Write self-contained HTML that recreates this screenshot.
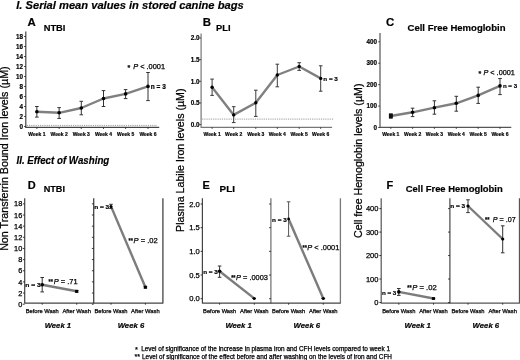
<!DOCTYPE html>
<html><head><meta charset="utf-8"><style>
html,body{margin:0;padding:0;background:#fff;}
svg{display:block;font-family:"Liberation Sans", sans-serif;filter:grayscale(1);}
text[font-weight="normal"]{stroke:#000;stroke-width:0.25px;}
text[font-weight="bold"]{stroke:#000;stroke-width:0.18px;}
</style></head><body>
<svg width="520" height="360" viewBox="0 0 520 360">
<rect width="520" height="360" fill="#fff"/>
<text x="16.2" y="8.5" font-size="10.7" font-weight="bold" font-style="italic" text-anchor="start" fill="#000" textLength="227.5" lengthAdjust="spacingAndGlyphs">I. Serial mean values in stored canine bags</text>
<text x="16.5" y="164.2" font-size="10.1" font-weight="bold" font-style="italic" text-anchor="start" fill="#000" textLength="92.8" lengthAdjust="spacingAndGlyphs">II. Effect of Washing</text>
<text transform="translate(7.5,158.6) rotate(-90)" x="0" y="0" font-size="10.6" font-weight="normal" text-anchor="middle" textLength="184.5" lengthAdjust="spacingAndGlyphs">Non Transferrin Bound Iron levels (µM)</text>
<text transform="translate(183.8,160.2) rotate(-90)" x="0" y="0" font-size="10.6" font-weight="normal" text-anchor="middle" textLength="143.4" lengthAdjust="spacingAndGlyphs">Plasma Labile Iron levels (µM)</text>
<text transform="translate(361.6,160.8) rotate(-90)" x="0" y="0" font-size="10.6" font-weight="normal" text-anchor="middle" textLength="154.5" lengthAdjust="spacingAndGlyphs">Cell free Hemoglobin levels (µM)</text>
<text x="27.5" y="25.7" font-size="11.4" font-weight="bold" font-style="normal" text-anchor="start" fill="#000">A</text>
<text x="43.7" y="30.8" font-size="9.3" font-weight="bold" font-style="normal" text-anchor="start" fill="#000">NTBI</text>
<line x1="25.8" y1="31.5" x2="25.8" y2="128.0" stroke="#444" stroke-width="1.2"/>
<line x1="24.0" y1="126.5" x2="25.8" y2="126.5" stroke="#222" stroke-width="0.8"/>
<text x="23.1" y="128.7" font-size="6.3" font-weight="bold" font-style="normal" text-anchor="end" fill="#000">0</text>
<line x1="24.0" y1="116.5" x2="25.8" y2="116.5" stroke="#222" stroke-width="0.8"/>
<text x="23.1" y="118.7" font-size="6.3" font-weight="bold" font-style="normal" text-anchor="end" fill="#000">2</text>
<line x1="24.0" y1="106.5" x2="25.8" y2="106.5" stroke="#222" stroke-width="0.8"/>
<text x="23.1" y="108.7" font-size="6.3" font-weight="bold" font-style="normal" text-anchor="end" fill="#000">4</text>
<line x1="24.0" y1="96.5" x2="25.8" y2="96.5" stroke="#222" stroke-width="0.8"/>
<text x="23.1" y="98.7" font-size="6.3" font-weight="bold" font-style="normal" text-anchor="end" fill="#000">6</text>
<line x1="24.0" y1="86.5" x2="25.8" y2="86.5" stroke="#222" stroke-width="0.8"/>
<text x="23.1" y="88.7" font-size="6.3" font-weight="bold" font-style="normal" text-anchor="end" fill="#000">8</text>
<line x1="24.0" y1="76.5" x2="25.8" y2="76.5" stroke="#222" stroke-width="0.8"/>
<text x="23.1" y="78.7" font-size="6.3" font-weight="bold" font-style="normal" text-anchor="end" fill="#000">10</text>
<line x1="24.0" y1="66.5" x2="25.8" y2="66.5" stroke="#222" stroke-width="0.8"/>
<text x="23.1" y="68.7" font-size="6.3" font-weight="bold" font-style="normal" text-anchor="end" fill="#000">12</text>
<line x1="24.0" y1="56.5" x2="25.8" y2="56.5" stroke="#222" stroke-width="0.8"/>
<text x="23.1" y="58.7" font-size="6.3" font-weight="bold" font-style="normal" text-anchor="end" fill="#000">14</text>
<line x1="24.0" y1="46.5" x2="25.8" y2="46.5" stroke="#222" stroke-width="0.8"/>
<text x="23.1" y="48.7" font-size="6.3" font-weight="bold" font-style="normal" text-anchor="end" fill="#000">16</text>
<line x1="24.0" y1="36.5" x2="25.8" y2="36.5" stroke="#222" stroke-width="0.8"/>
<text x="23.1" y="38.7" font-size="6.3" font-weight="bold" font-style="normal" text-anchor="end" fill="#000">18</text>
<line x1="25.8" y1="127.4" x2="159.2" y2="127.4" stroke="#444" stroke-width="1.3"/>
<line x1="36.85" y1="127.4" x2="36.85" y2="129.0" stroke="#222" stroke-width="0.8"/>
<text x="36.85" y="136.3" font-size="5" font-weight="bold" font-style="normal" text-anchor="middle" fill="#000" textLength="17.2" lengthAdjust="spacingAndGlyphs">Week 1</text>
<line x1="59.15" y1="127.4" x2="59.15" y2="129.0" stroke="#222" stroke-width="0.8"/>
<text x="59.15" y="136.3" font-size="5" font-weight="bold" font-style="normal" text-anchor="middle" fill="#000" textLength="17.2" lengthAdjust="spacingAndGlyphs">Week 2</text>
<line x1="81.3" y1="127.4" x2="81.3" y2="129.0" stroke="#222" stroke-width="0.8"/>
<text x="81.3" y="136.3" font-size="5" font-weight="bold" font-style="normal" text-anchor="middle" fill="#000" textLength="17.2" lengthAdjust="spacingAndGlyphs">Week 3</text>
<line x1="103.5" y1="127.4" x2="103.5" y2="129.0" stroke="#222" stroke-width="0.8"/>
<text x="103.5" y="136.3" font-size="5" font-weight="bold" font-style="normal" text-anchor="middle" fill="#000" textLength="17.2" lengthAdjust="spacingAndGlyphs">Week 4</text>
<line x1="125.6" y1="127.4" x2="125.6" y2="129.0" stroke="#222" stroke-width="0.8"/>
<text x="125.6" y="136.3" font-size="5" font-weight="bold" font-style="normal" text-anchor="middle" fill="#000" textLength="17.2" lengthAdjust="spacingAndGlyphs">Week 5</text>
<line x1="148.0" y1="127.4" x2="148.0" y2="129.0" stroke="#222" stroke-width="0.8"/>
<text x="148.0" y="136.3" font-size="5" font-weight="bold" font-style="normal" text-anchor="middle" fill="#000" textLength="17.2" lengthAdjust="spacingAndGlyphs">Week 6</text>
<line x1="26.8" y1="125.4" x2="157" y2="125.4" stroke="#555" stroke-width="0.6" stroke-dasharray="1.2,1"/>
<polyline points="36.85,111.8 59.15,112.8 81.3,108 103.5,98.5 125.6,93.9 148.0,86.4" fill="none" stroke="#808080" stroke-width="2.4" stroke-linejoin="round"/>
<line x1="36.85" y1="106.5" x2="36.85" y2="117.1" stroke="#333" stroke-width="1"/>
<line x1="35.050000000000004" y1="106.5" x2="38.65" y2="106.5" stroke="#333" stroke-width="1"/>
<line x1="35.050000000000004" y1="117.1" x2="38.65" y2="117.1" stroke="#333" stroke-width="1"/>
<circle cx="36.85" cy="111.8" r="1.8" fill="#000"/>
<line x1="59.15" y1="107.6" x2="59.15" y2="118.4" stroke="#333" stroke-width="1"/>
<line x1="57.35" y1="107.6" x2="60.949999999999996" y2="107.6" stroke="#333" stroke-width="1"/>
<line x1="57.35" y1="118.4" x2="60.949999999999996" y2="118.4" stroke="#333" stroke-width="1"/>
<circle cx="59.15" cy="112.8" r="1.8" fill="#000"/>
<line x1="81.3" y1="101.3" x2="81.3" y2="114.8" stroke="#333" stroke-width="1"/>
<line x1="79.5" y1="101.3" x2="83.1" y2="101.3" stroke="#333" stroke-width="1"/>
<line x1="79.5" y1="114.8" x2="83.1" y2="114.8" stroke="#333" stroke-width="1"/>
<circle cx="81.3" cy="108" r="1.8" fill="#000"/>
<line x1="103.5" y1="90.6" x2="103.5" y2="106.5" stroke="#333" stroke-width="1"/>
<line x1="101.7" y1="90.6" x2="105.3" y2="90.6" stroke="#333" stroke-width="1"/>
<line x1="101.7" y1="106.5" x2="105.3" y2="106.5" stroke="#333" stroke-width="1"/>
<circle cx="103.5" cy="98.5" r="1.8" fill="#000"/>
<line x1="125.6" y1="89.6" x2="125.6" y2="98.6" stroke="#333" stroke-width="1"/>
<line x1="123.8" y1="89.6" x2="127.39999999999999" y2="89.6" stroke="#333" stroke-width="1"/>
<line x1="123.8" y1="98.6" x2="127.39999999999999" y2="98.6" stroke="#333" stroke-width="1"/>
<circle cx="125.6" cy="93.9" r="1.8" fill="#000"/>
<line x1="148.0" y1="72.5" x2="148.0" y2="100.6" stroke="#333" stroke-width="1"/>
<line x1="146.2" y1="72.5" x2="149.8" y2="72.5" stroke="#333" stroke-width="1"/>
<line x1="146.2" y1="100.6" x2="149.8" y2="100.6" stroke="#333" stroke-width="1"/>
<circle cx="148.0" cy="86.4" r="1.8" fill="#000"/>
<text x="127.6" y="70.2" font-size="7" font-weight="bold" font-style="normal" text-anchor="start" fill="#000">*</text>
<text x="133.2" y="69.2" font-size="7.2" font-weight="normal" font-style="normal" text-anchor="start" fill="#000" textLength="31.9" lengthAdjust="spacingAndGlyphs"><tspan font-style="italic">P</tspan> &lt; .0001</text>
<text x="150.8" y="88.7" font-size="6.6" font-weight="bold" font-style="normal" text-anchor="start" fill="#000" textLength="15" lengthAdjust="spacingAndGlyphs">n = 3</text>
<text x="202.7" y="25.7" font-size="11.4" font-weight="bold" font-style="normal" text-anchor="start" fill="#000">B</text>
<text x="216.0" y="30.8" font-size="9.3" font-weight="bold" font-style="normal" text-anchor="start" fill="#000">PLI</text>
<line x1="201.1" y1="33.4" x2="201.1" y2="127.89999999999999" stroke="#777" stroke-width="1.2"/>
<line x1="199.29999999999998" y1="124.6" x2="201.1" y2="124.6" stroke="#222" stroke-width="0.8"/>
<text x="199.6" y="126.8" font-size="6.3" font-weight="bold" font-style="normal" text-anchor="end" fill="#000">0.0</text>
<line x1="199.29999999999998" y1="102.94999999999999" x2="201.1" y2="102.94999999999999" stroke="#222" stroke-width="0.8"/>
<text x="199.6" y="105.14999999999999" font-size="6.3" font-weight="bold" font-style="normal" text-anchor="end" fill="#000">0.5</text>
<line x1="199.29999999999998" y1="81.3" x2="201.1" y2="81.3" stroke="#222" stroke-width="0.8"/>
<text x="199.6" y="83.5" font-size="6.3" font-weight="bold" font-style="normal" text-anchor="end" fill="#000">1.0</text>
<line x1="199.29999999999998" y1="59.650000000000006" x2="201.1" y2="59.650000000000006" stroke="#222" stroke-width="0.8"/>
<text x="199.6" y="61.85000000000001" font-size="6.3" font-weight="bold" font-style="normal" text-anchor="end" fill="#000">1.5</text>
<line x1="199.29999999999998" y1="38.0" x2="201.1" y2="38.0" stroke="#222" stroke-width="0.8"/>
<text x="199.6" y="40.2" font-size="6.3" font-weight="bold" font-style="normal" text-anchor="end" fill="#000">2.0</text>
<line x1="201.1" y1="127.3" x2="332.1" y2="127.3" stroke="#777" stroke-width="1.3"/>
<line x1="212.1" y1="127.3" x2="212.1" y2="128.9" stroke="#222" stroke-width="0.8"/>
<text x="212.1" y="136.2" font-size="5" font-weight="bold" font-style="normal" text-anchor="middle" fill="#000" textLength="17.2" lengthAdjust="spacingAndGlyphs">Week 1</text>
<line x1="233.7" y1="127.3" x2="233.7" y2="128.9" stroke="#222" stroke-width="0.8"/>
<text x="233.7" y="136.2" font-size="5" font-weight="bold" font-style="normal" text-anchor="middle" fill="#000" textLength="17.2" lengthAdjust="spacingAndGlyphs">Week 2</text>
<line x1="255.8" y1="127.3" x2="255.8" y2="128.9" stroke="#222" stroke-width="0.8"/>
<text x="255.8" y="136.2" font-size="5" font-weight="bold" font-style="normal" text-anchor="middle" fill="#000" textLength="17.2" lengthAdjust="spacingAndGlyphs">Week 3</text>
<line x1="277.3" y1="127.3" x2="277.3" y2="128.9" stroke="#222" stroke-width="0.8"/>
<text x="277.3" y="136.2" font-size="5" font-weight="bold" font-style="normal" text-anchor="middle" fill="#000" textLength="17.2" lengthAdjust="spacingAndGlyphs">Week 4</text>
<line x1="299.2" y1="127.3" x2="299.2" y2="128.9" stroke="#222" stroke-width="0.8"/>
<text x="299.2" y="136.2" font-size="5" font-weight="bold" font-style="normal" text-anchor="middle" fill="#000" textLength="17.2" lengthAdjust="spacingAndGlyphs">Week 5</text>
<line x1="320.7" y1="127.3" x2="320.7" y2="128.9" stroke="#222" stroke-width="0.8"/>
<text x="320.7" y="136.2" font-size="5" font-weight="bold" font-style="normal" text-anchor="middle" fill="#000" textLength="17.2" lengthAdjust="spacingAndGlyphs">Week 6</text>
<line x1="202.1" y1="119.1" x2="333.8" y2="119.1" stroke="#555" stroke-width="0.6" stroke-dasharray="1.2,1"/>
<polyline points="212.1,87.2 233.7,114.9 255.8,102.8 277.3,75 299.2,66.5 320.7,78.4" fill="none" stroke="#808080" stroke-width="2.4" stroke-linejoin="round"/>
<line x1="212.1" y1="79.1" x2="212.1" y2="95.4" stroke="#3a3a3a" stroke-width="1"/>
<line x1="210.29999999999998" y1="79.1" x2="213.9" y2="79.1" stroke="#3a3a3a" stroke-width="1"/>
<line x1="210.29999999999998" y1="95.4" x2="213.9" y2="95.4" stroke="#3a3a3a" stroke-width="1"/>
<circle cx="212.1" cy="87.2" r="1.7" fill="#000"/>
<line x1="233.7" y1="106.7" x2="233.7" y2="122.6" stroke="#3a3a3a" stroke-width="1"/>
<line x1="231.89999999999998" y1="106.7" x2="235.5" y2="106.7" stroke="#3a3a3a" stroke-width="1"/>
<line x1="231.89999999999998" y1="122.6" x2="235.5" y2="122.6" stroke="#3a3a3a" stroke-width="1"/>
<circle cx="233.7" cy="114.9" r="1.7" fill="#000"/>
<line x1="255.8" y1="90.2" x2="255.8" y2="116.4" stroke="#3a3a3a" stroke-width="1"/>
<line x1="254.0" y1="90.2" x2="257.6" y2="90.2" stroke="#3a3a3a" stroke-width="1"/>
<line x1="254.0" y1="116.4" x2="257.6" y2="116.4" stroke="#3a3a3a" stroke-width="1"/>
<circle cx="255.8" cy="102.8" r="1.7" fill="#000"/>
<line x1="277.3" y1="64.2" x2="277.3" y2="86.8" stroke="#3a3a3a" stroke-width="1"/>
<line x1="275.5" y1="64.2" x2="279.1" y2="64.2" stroke="#3a3a3a" stroke-width="1"/>
<line x1="275.5" y1="86.8" x2="279.1" y2="86.8" stroke="#3a3a3a" stroke-width="1"/>
<circle cx="277.3" cy="75" r="1.7" fill="#000"/>
<line x1="299.2" y1="62.7" x2="299.2" y2="70.4" stroke="#3a3a3a" stroke-width="1"/>
<line x1="297.4" y1="62.7" x2="301.0" y2="62.7" stroke="#3a3a3a" stroke-width="1"/>
<line x1="297.4" y1="70.4" x2="301.0" y2="70.4" stroke="#3a3a3a" stroke-width="1"/>
<circle cx="299.2" cy="66.5" r="1.7" fill="#000"/>
<line x1="320.7" y1="65.8" x2="320.7" y2="91.2" stroke="#3a3a3a" stroke-width="1"/>
<line x1="318.9" y1="65.8" x2="322.5" y2="65.8" stroke="#3a3a3a" stroke-width="1"/>
<line x1="318.9" y1="91.2" x2="322.5" y2="91.2" stroke="#3a3a3a" stroke-width="1"/>
<circle cx="320.7" cy="78.4" r="1.7" fill="#000"/>
<text x="323.3" y="80.8" font-size="6.2" font-weight="bold" font-style="normal" text-anchor="start" fill="#000" textLength="14.6" lengthAdjust="spacingAndGlyphs">n = 3</text>
<text x="386.0" y="25.7" font-size="11.4" font-weight="bold" font-style="normal" text-anchor="start" fill="#000">C</text>
<text x="407.5" y="30.8" font-size="9.3" font-weight="bold" font-style="normal" text-anchor="start" fill="#000" textLength="98" lengthAdjust="spacingAndGlyphs">Cell Free Hemoglobin</text>
<line x1="380.0" y1="32.9" x2="380.0" y2="127.89999999999999" stroke="#555" stroke-width="1.2"/>
<line x1="378.2" y1="127.5" x2="380.0" y2="127.5" stroke="#222" stroke-width="0.8"/>
<text x="377.0" y="129.7" font-size="6.3" font-weight="bold" font-style="normal" text-anchor="end" fill="#000">0</text>
<line x1="378.2" y1="106.075" x2="380.0" y2="106.075" stroke="#222" stroke-width="0.8"/>
<text x="377.0" y="108.275" font-size="6.3" font-weight="bold" font-style="normal" text-anchor="end" fill="#000">100</text>
<line x1="378.2" y1="84.65" x2="380.0" y2="84.65" stroke="#222" stroke-width="0.8"/>
<text x="377.0" y="86.85000000000001" font-size="6.3" font-weight="bold" font-style="normal" text-anchor="end" fill="#000">200</text>
<line x1="378.2" y1="63.224999999999994" x2="380.0" y2="63.224999999999994" stroke="#222" stroke-width="0.8"/>
<text x="377.0" y="65.425" font-size="6.3" font-weight="bold" font-style="normal" text-anchor="end" fill="#000">300</text>
<line x1="378.2" y1="41.8" x2="380.0" y2="41.8" stroke="#222" stroke-width="0.8"/>
<text x="377.0" y="44.0" font-size="6.3" font-weight="bold" font-style="normal" text-anchor="end" fill="#000">400</text>
<line x1="380.0" y1="127.3" x2="511.3" y2="127.3" stroke="#555" stroke-width="1.3"/>
<line x1="390.8" y1="127.3" x2="390.8" y2="128.9" stroke="#222" stroke-width="0.8"/>
<text x="390.8" y="136.2" font-size="5" font-weight="bold" font-style="normal" text-anchor="middle" fill="#000" textLength="17.2" lengthAdjust="spacingAndGlyphs">Week 1</text>
<line x1="412.6" y1="127.3" x2="412.6" y2="128.9" stroke="#222" stroke-width="0.8"/>
<text x="412.6" y="136.2" font-size="5" font-weight="bold" font-style="normal" text-anchor="middle" fill="#000" textLength="17.2" lengthAdjust="spacingAndGlyphs">Week 2</text>
<line x1="434.4" y1="127.3" x2="434.4" y2="128.9" stroke="#222" stroke-width="0.8"/>
<text x="434.4" y="136.2" font-size="5" font-weight="bold" font-style="normal" text-anchor="middle" fill="#000" textLength="17.2" lengthAdjust="spacingAndGlyphs">Week 3</text>
<line x1="456.3" y1="127.3" x2="456.3" y2="128.9" stroke="#222" stroke-width="0.8"/>
<text x="456.3" y="136.2" font-size="5" font-weight="bold" font-style="normal" text-anchor="middle" fill="#000" textLength="17.2" lengthAdjust="spacingAndGlyphs">Week 4</text>
<line x1="478.2" y1="127.3" x2="478.2" y2="128.9" stroke="#222" stroke-width="0.8"/>
<text x="478.2" y="136.2" font-size="5" font-weight="bold" font-style="normal" text-anchor="middle" fill="#000" textLength="17.2" lengthAdjust="spacingAndGlyphs">Week 5</text>
<line x1="500.0" y1="127.3" x2="500.0" y2="128.9" stroke="#222" stroke-width="0.8"/>
<text x="500.0" y="136.2" font-size="5" font-weight="bold" font-style="normal" text-anchor="middle" fill="#000" textLength="17.2" lengthAdjust="spacingAndGlyphs">Week 6</text>
<polyline points="390.8,116.0 412.6,112.3 434.4,107.7 456.3,103.3 478.2,95.4 500.0,85.9" fill="none" stroke="#808080" stroke-width="2.4" stroke-linejoin="round"/>
<line x1="390.8" y1="114.0" x2="390.8" y2="118.1" stroke="#333" stroke-width="1"/>
<line x1="389.0" y1="114.0" x2="392.6" y2="114.0" stroke="#333" stroke-width="1"/>
<line x1="389.0" y1="118.1" x2="392.6" y2="118.1" stroke="#333" stroke-width="1"/>
<circle cx="390.8" cy="116.0" r="1.8" fill="#000"/>
<line x1="412.6" y1="108.2" x2="412.6" y2="116.6" stroke="#333" stroke-width="1"/>
<line x1="410.8" y1="108.2" x2="414.40000000000003" y2="108.2" stroke="#333" stroke-width="1"/>
<line x1="410.8" y1="116.6" x2="414.40000000000003" y2="116.6" stroke="#333" stroke-width="1"/>
<circle cx="412.6" cy="112.3" r="1.8" fill="#000"/>
<line x1="434.4" y1="100.8" x2="434.4" y2="114.2" stroke="#333" stroke-width="1"/>
<line x1="432.59999999999997" y1="100.8" x2="436.2" y2="100.8" stroke="#333" stroke-width="1"/>
<line x1="432.59999999999997" y1="114.2" x2="436.2" y2="114.2" stroke="#333" stroke-width="1"/>
<circle cx="434.4" cy="107.7" r="1.8" fill="#000"/>
<line x1="456.3" y1="96.3" x2="456.3" y2="111.2" stroke="#333" stroke-width="1"/>
<line x1="454.5" y1="96.3" x2="458.1" y2="96.3" stroke="#333" stroke-width="1"/>
<line x1="454.5" y1="111.2" x2="458.1" y2="111.2" stroke="#333" stroke-width="1"/>
<circle cx="456.3" cy="103.3" r="1.8" fill="#000"/>
<line x1="478.2" y1="87.2" x2="478.2" y2="103.4" stroke="#333" stroke-width="1"/>
<line x1="476.4" y1="87.2" x2="480.0" y2="87.2" stroke="#333" stroke-width="1"/>
<line x1="476.4" y1="103.4" x2="480.0" y2="103.4" stroke="#333" stroke-width="1"/>
<circle cx="478.2" cy="95.4" r="1.8" fill="#000"/>
<line x1="500.0" y1="78.5" x2="500.0" y2="94.6" stroke="#333" stroke-width="1"/>
<line x1="498.2" y1="78.5" x2="501.8" y2="78.5" stroke="#333" stroke-width="1"/>
<line x1="498.2" y1="94.6" x2="501.8" y2="94.6" stroke="#333" stroke-width="1"/>
<circle cx="500.0" cy="85.9" r="1.8" fill="#000"/>
<text x="478.4" y="75.8" font-size="7" font-weight="bold" font-style="normal" text-anchor="start" fill="#000">*</text>
<text x="483.5" y="74.8" font-size="7.2" font-weight="normal" font-style="normal" text-anchor="start" fill="#000" textLength="31.3" lengthAdjust="spacingAndGlyphs"><tspan font-style="italic">P</tspan> &lt; .0001</text>
<text x="502.9" y="88.0" font-size="6" font-weight="bold" font-style="normal" text-anchor="start" fill="#000" textLength="14.2" lengthAdjust="spacingAndGlyphs">n = 3</text>
<rect x="388.9" y="113.6" width="3.9" height="4.7" fill="#111"/>
<text x="27.7" y="188.6" font-size="11" font-weight="bold" font-style="normal" text-anchor="start" fill="#000">D</text>
<text x="43.7" y="192.4" font-size="8.9" font-weight="bold" font-style="normal" text-anchor="start" fill="#000" textLength="21.3" lengthAdjust="spacingAndGlyphs">NTBI</text>
<line x1="24.7" y1="198.3" x2="24.7" y2="303.6" stroke="#444" stroke-width="1.2"/>
<line x1="93.7" y1="198.3" x2="93.7" y2="303.6" stroke="#444" stroke-width="1.3"/>
<line x1="162.9" y1="198.3" x2="162.9" y2="303.6" stroke="#444" stroke-width="1.3"/>
<line x1="24.7" y1="303.1" x2="162.9" y2="303.1" stroke="#444" stroke-width="1.2"/>
<line x1="22.9" y1="304.2" x2="24.7" y2="304.2" stroke="#222" stroke-width="0.9"/>
<line x1="91.9" y1="304.2" x2="93.7" y2="304.2" stroke="#222" stroke-width="0.9"/>
<text x="22.3" y="306.8" font-size="7.4" font-weight="normal" font-style="normal" text-anchor="end" fill="#000">0</text>
<line x1="22.9" y1="293.05" x2="24.7" y2="293.05" stroke="#222" stroke-width="0.9"/>
<line x1="91.9" y1="293.05" x2="93.7" y2="293.05" stroke="#222" stroke-width="0.9"/>
<text x="22.3" y="295.65000000000003" font-size="7.4" font-weight="normal" font-style="normal" text-anchor="end" fill="#000">2</text>
<line x1="22.9" y1="281.9" x2="24.7" y2="281.9" stroke="#222" stroke-width="0.9"/>
<line x1="91.9" y1="281.9" x2="93.7" y2="281.9" stroke="#222" stroke-width="0.9"/>
<text x="22.3" y="284.5" font-size="7.4" font-weight="normal" font-style="normal" text-anchor="end" fill="#000">4</text>
<line x1="22.9" y1="270.75" x2="24.7" y2="270.75" stroke="#222" stroke-width="0.9"/>
<line x1="91.9" y1="270.75" x2="93.7" y2="270.75" stroke="#222" stroke-width="0.9"/>
<text x="22.3" y="273.35" font-size="7.4" font-weight="normal" font-style="normal" text-anchor="end" fill="#000">6</text>
<line x1="22.9" y1="259.59999999999997" x2="24.7" y2="259.59999999999997" stroke="#222" stroke-width="0.9"/>
<line x1="91.9" y1="259.59999999999997" x2="93.7" y2="259.59999999999997" stroke="#222" stroke-width="0.9"/>
<text x="22.3" y="262.2" font-size="7.4" font-weight="normal" font-style="normal" text-anchor="end" fill="#000">8</text>
<line x1="22.9" y1="248.45" x2="24.7" y2="248.45" stroke="#222" stroke-width="0.9"/>
<line x1="91.9" y1="248.45" x2="93.7" y2="248.45" stroke="#222" stroke-width="0.9"/>
<text x="22.3" y="251.04999999999998" font-size="7.4" font-weight="normal" font-style="normal" text-anchor="end" fill="#000">10</text>
<line x1="22.9" y1="237.29999999999998" x2="24.7" y2="237.29999999999998" stroke="#222" stroke-width="0.9"/>
<line x1="91.9" y1="237.29999999999998" x2="93.7" y2="237.29999999999998" stroke="#222" stroke-width="0.9"/>
<text x="22.3" y="239.89999999999998" font-size="7.4" font-weight="normal" font-style="normal" text-anchor="end" fill="#000">12</text>
<line x1="22.9" y1="226.14999999999998" x2="24.7" y2="226.14999999999998" stroke="#222" stroke-width="0.9"/>
<line x1="91.9" y1="226.14999999999998" x2="93.7" y2="226.14999999999998" stroke="#222" stroke-width="0.9"/>
<text x="22.3" y="228.74999999999997" font-size="7.4" font-weight="normal" font-style="normal" text-anchor="end" fill="#000">14</text>
<line x1="22.9" y1="215.0" x2="24.7" y2="215.0" stroke="#222" stroke-width="0.9"/>
<line x1="91.9" y1="215.0" x2="93.7" y2="215.0" stroke="#222" stroke-width="0.9"/>
<text x="22.3" y="217.6" font-size="7.4" font-weight="normal" font-style="normal" text-anchor="end" fill="#000">16</text>
<line x1="22.9" y1="203.84999999999997" x2="24.7" y2="203.84999999999997" stroke="#222" stroke-width="0.9"/>
<line x1="91.9" y1="203.84999999999997" x2="93.7" y2="203.84999999999997" stroke="#222" stroke-width="0.9"/>
<text x="22.3" y="206.44999999999996" font-size="7.4" font-weight="normal" font-style="normal" text-anchor="end" fill="#000">18</text>
<line x1="42.2" y1="303.1" x2="42.2" y2="304.70000000000005" stroke="#222" stroke-width="0.9"/>
<text x="42.2" y="312.7" font-size="5.8" font-weight="normal" font-style="normal" text-anchor="middle" fill="#000" textLength="33.1" lengthAdjust="spacingAndGlyphs">Before Wash</text>
<line x1="76.7" y1="303.1" x2="76.7" y2="304.70000000000005" stroke="#222" stroke-width="0.9"/>
<text x="76.7" y="312.7" font-size="5.8" font-weight="normal" font-style="normal" text-anchor="middle" fill="#000" textLength="28.6" lengthAdjust="spacingAndGlyphs">After Wash</text>
<line x1="111.0" y1="303.1" x2="111.0" y2="304.70000000000005" stroke="#222" stroke-width="0.9"/>
<text x="111.0" y="312.7" font-size="5.8" font-weight="normal" font-style="normal" text-anchor="middle" fill="#000" textLength="33.1" lengthAdjust="spacingAndGlyphs">Before Wash</text>
<line x1="145.4" y1="303.1" x2="145.4" y2="304.70000000000005" stroke="#222" stroke-width="0.9"/>
<text x="145.4" y="312.7" font-size="5.8" font-weight="normal" font-style="normal" text-anchor="middle" fill="#000" textLength="28.6" lengthAdjust="spacingAndGlyphs">After Wash</text>
<text x="57.9" y="328.1" font-size="7.7" font-weight="bold" font-style="italic" text-anchor="middle" fill="#000" textLength="26.4" lengthAdjust="spacingAndGlyphs">Week 1</text>
<text x="131.0" y="328.1" font-size="7.7" font-weight="bold" font-style="italic" text-anchor="middle" fill="#000" textLength="26.6" lengthAdjust="spacingAndGlyphs">Week 6</text>
<polyline points="42.2,284.7 76.7,291.3" fill="none" stroke="#7c7c7c" stroke-width="2.4" stroke-linejoin="round"/>
<line x1="42.2" y1="277.5" x2="42.2" y2="291.9" stroke="#333" stroke-width="1"/>
<line x1="40.400000000000006" y1="277.5" x2="44.0" y2="277.5" stroke="#333" stroke-width="1"/>
<line x1="40.400000000000006" y1="291.9" x2="44.0" y2="291.9" stroke="#333" stroke-width="1"/>
<circle cx="42.2" cy="284.7" r="1.8" fill="#000"/>
<line x1="76.7" y1="290.5" x2="76.7" y2="292.1" stroke="#333" stroke-width="1"/>
<line x1="74.9" y1="290.5" x2="78.5" y2="290.5" stroke="#333" stroke-width="1"/>
<line x1="74.9" y1="292.1" x2="78.5" y2="292.1" stroke="#333" stroke-width="1"/>
<rect x="75.2" y="289.8" width="3.0" height="3.0" fill="#000"/>
<polyline points="111.0,206.4 145.4,287.2" fill="none" stroke="#7c7c7c" stroke-width="2.4" stroke-linejoin="round"/>
<line x1="111.0" y1="204.3" x2="111.0" y2="208.5" stroke="#333" stroke-width="1"/>
<line x1="109.2" y1="204.3" x2="112.8" y2="204.3" stroke="#333" stroke-width="1"/>
<line x1="109.2" y1="208.5" x2="112.8" y2="208.5" stroke="#333" stroke-width="1"/>
<circle cx="111.0" cy="206.4" r="1.5" fill="#000"/>
<line x1="145.4" y1="286.5" x2="145.4" y2="288" stroke="#333" stroke-width="1"/>
<line x1="143.6" y1="286.5" x2="147.20000000000002" y2="286.5" stroke="#333" stroke-width="1"/>
<line x1="143.6" y1="288" x2="147.20000000000002" y2="288" stroke="#333" stroke-width="1"/>
<rect x="143.9" y="285.7" width="3.0" height="3.0" fill="#000"/>
<text x="25.2" y="286.9" font-size="5.6" font-weight="bold" font-style="normal" text-anchor="start" fill="#000" textLength="15.5" lengthAdjust="spacingAndGlyphs">n = 3</text>
<text x="48.6" y="283.7" font-size="6.5" font-weight="bold" font-style="normal" text-anchor="start" fill="#000" textLength="4.3" lengthAdjust="spacingAndGlyphs">**</text>
<text x="53.8" y="283.7" font-size="7.6" font-weight="normal" font-style="normal" text-anchor="start" fill="#000" textLength="23.9" lengthAdjust="spacingAndGlyphs"><tspan font-style="italic">P</tspan> = .71</text>
<text x="94.2" y="209.3" font-size="5.4" font-weight="bold" font-style="normal" text-anchor="start" fill="#000" textLength="15" lengthAdjust="spacingAndGlyphs">n = 3</text>
<text x="128.5" y="242.8" font-size="6.5" font-weight="bold" font-style="normal" text-anchor="start" fill="#000" textLength="4.3" lengthAdjust="spacingAndGlyphs">**</text>
<text x="133.5" y="242.8" font-size="7.6" font-weight="normal" font-style="normal" text-anchor="start" fill="#000" textLength="24.2" lengthAdjust="spacingAndGlyphs"><tspan font-style="italic">P</tspan> = .02</text>
<text x="202.6" y="188.6" font-size="11" font-weight="bold" font-style="normal" text-anchor="start" fill="#000">E</text>
<text x="219.6" y="192.4" font-size="8.9" font-weight="bold" font-style="normal" text-anchor="start" fill="#000" textLength="15.4" lengthAdjust="spacingAndGlyphs">PLI</text>
<line x1="202.4" y1="198.3" x2="202.4" y2="303.6" stroke="#444" stroke-width="1.2"/>
<line x1="270.9" y1="198.3" x2="270.9" y2="303.6" stroke="#777" stroke-width="1.3"/>
<line x1="340.4" y1="198.3" x2="340.4" y2="303.6" stroke="#777" stroke-width="1.3"/>
<line x1="202.4" y1="303.1" x2="340.4" y2="303.1" stroke="#444" stroke-width="1.2"/>
<line x1="200.6" y1="298.7" x2="202.4" y2="298.7" stroke="#222" stroke-width="0.9"/>
<line x1="269.09999999999997" y1="298.7" x2="270.9" y2="298.7" stroke="#222" stroke-width="0.9"/>
<text x="199.8" y="301.3" font-size="7.6" font-weight="normal" font-style="normal" text-anchor="end" fill="#000">0.0</text>
<line x1="200.6" y1="275.025" x2="202.4" y2="275.025" stroke="#222" stroke-width="0.9"/>
<line x1="269.09999999999997" y1="275.025" x2="270.9" y2="275.025" stroke="#222" stroke-width="0.9"/>
<text x="199.8" y="277.625" font-size="7.6" font-weight="normal" font-style="normal" text-anchor="end" fill="#000">0.5</text>
<line x1="200.6" y1="251.35" x2="202.4" y2="251.35" stroke="#222" stroke-width="0.9"/>
<line x1="269.09999999999997" y1="251.35" x2="270.9" y2="251.35" stroke="#222" stroke-width="0.9"/>
<text x="199.8" y="253.95" font-size="7.6" font-weight="normal" font-style="normal" text-anchor="end" fill="#000">1.0</text>
<line x1="200.6" y1="227.67499999999998" x2="202.4" y2="227.67499999999998" stroke="#222" stroke-width="0.9"/>
<line x1="269.09999999999997" y1="227.67499999999998" x2="270.9" y2="227.67499999999998" stroke="#222" stroke-width="0.9"/>
<text x="199.8" y="230.27499999999998" font-size="7.6" font-weight="normal" font-style="normal" text-anchor="end" fill="#000">1.5</text>
<line x1="200.6" y1="204.0" x2="202.4" y2="204.0" stroke="#222" stroke-width="0.9"/>
<line x1="269.09999999999997" y1="204.0" x2="270.9" y2="204.0" stroke="#222" stroke-width="0.9"/>
<text x="199.8" y="206.6" font-size="7.6" font-weight="normal" font-style="normal" text-anchor="end" fill="#000">2.0</text>
<line x1="219.6" y1="303.1" x2="219.6" y2="304.70000000000005" stroke="#222" stroke-width="0.9"/>
<text x="219.6" y="312.7" font-size="5.8" font-weight="normal" font-style="normal" text-anchor="middle" fill="#000" textLength="33.1" lengthAdjust="spacingAndGlyphs">Before Wash</text>
<line x1="254.3" y1="303.1" x2="254.3" y2="304.70000000000005" stroke="#222" stroke-width="0.9"/>
<text x="254.3" y="312.7" font-size="5.8" font-weight="normal" font-style="normal" text-anchor="middle" fill="#000" textLength="28.6" lengthAdjust="spacingAndGlyphs">After Wash</text>
<line x1="288.6" y1="303.1" x2="288.6" y2="304.70000000000005" stroke="#222" stroke-width="0.9"/>
<text x="288.6" y="312.7" font-size="5.8" font-weight="normal" font-style="normal" text-anchor="middle" fill="#000" textLength="33.1" lengthAdjust="spacingAndGlyphs">Before Wash</text>
<line x1="323.3" y1="303.1" x2="323.3" y2="304.70000000000005" stroke="#222" stroke-width="0.9"/>
<text x="323.3" y="312.7" font-size="5.8" font-weight="normal" font-style="normal" text-anchor="middle" fill="#000" textLength="28.6" lengthAdjust="spacingAndGlyphs">After Wash</text>
<text x="238.6" y="328.1" font-size="7.7" font-weight="bold" font-style="italic" text-anchor="middle" fill="#000" textLength="26.4" lengthAdjust="spacingAndGlyphs">Week 1</text>
<text x="306.9" y="328.1" font-size="7.7" font-weight="bold" font-style="italic" text-anchor="middle" fill="#000" textLength="26.6" lengthAdjust="spacingAndGlyphs">Week 6</text>
<polyline points="219.6,271.2 254.2,298.4" fill="none" stroke="#7c7c7c" stroke-width="2.4" stroke-linejoin="round"/>
<line x1="219.6" y1="266.0" x2="219.6" y2="277.3" stroke="#333" stroke-width="1"/>
<line x1="217.79999999999998" y1="266.0" x2="221.4" y2="266.0" stroke="#333" stroke-width="1"/>
<line x1="217.79999999999998" y1="277.3" x2="221.4" y2="277.3" stroke="#333" stroke-width="1"/>
<circle cx="219.6" cy="271.2" r="1.8" fill="#000"/>
<line x1="254.2" y1="298.4" x2="254.2" y2="298.4" stroke="#333" stroke-width="1"/>
<line x1="252.39999999999998" y1="298.4" x2="256.0" y2="298.4" stroke="#333" stroke-width="1"/>
<line x1="252.39999999999998" y1="298.4" x2="256.0" y2="298.4" stroke="#333" stroke-width="1"/>
<circle cx="254.2" cy="298.4" r="1.5" fill="#000"/>
<polyline points="288.6,219.0 323.3,298.4" fill="none" stroke="#7c7c7c" stroke-width="2.4" stroke-linejoin="round"/>
<line x1="288.6" y1="201.8" x2="288.6" y2="236.2" stroke="#555" stroke-width="1"/>
<line x1="286.8" y1="201.8" x2="290.40000000000003" y2="201.8" stroke="#555" stroke-width="1"/>
<line x1="286.8" y1="236.2" x2="290.40000000000003" y2="236.2" stroke="#555" stroke-width="1"/>
<circle cx="288.6" cy="219.0" r="1.4" fill="#000"/>
<line x1="323.3" y1="298.4" x2="323.3" y2="298.4" stroke="#333" stroke-width="1"/>
<line x1="321.5" y1="298.4" x2="325.1" y2="298.4" stroke="#333" stroke-width="1"/>
<line x1="321.5" y1="298.4" x2="325.1" y2="298.4" stroke="#333" stroke-width="1"/>
<circle cx="323.3" cy="298.4" r="1.5" fill="#000"/>
<text x="203.2" y="274.0" font-size="5.4" font-weight="bold" font-style="normal" text-anchor="start" fill="#000" textLength="14.7" lengthAdjust="spacingAndGlyphs">n = 3</text>
<text x="231.2" y="280.0" font-size="6.5" font-weight="bold" font-style="normal" text-anchor="start" fill="#000" textLength="4.3" lengthAdjust="spacingAndGlyphs">**</text>
<text x="236.0" y="280.0" font-size="7.6" font-weight="normal" font-style="normal" text-anchor="start" fill="#000" textLength="32.0" lengthAdjust="spacingAndGlyphs"><tspan font-style="italic">P</tspan> = .0003</text>
<text x="272.0" y="222.0" font-size="5.4" font-weight="bold" font-style="normal" text-anchor="start" fill="#000" textLength="14.7" lengthAdjust="spacingAndGlyphs">n = 3</text>
<text x="302.5" y="249.8" font-size="6.5" font-weight="bold" font-style="normal" text-anchor="start" fill="#000" textLength="4.3" lengthAdjust="spacingAndGlyphs">**</text>
<text x="307.3" y="249.8" font-size="7.6" font-weight="normal" font-style="normal" text-anchor="start" fill="#000" textLength="32.0" lengthAdjust="spacingAndGlyphs"><tspan font-style="italic">P</tspan> &lt; .0001</text>
<text x="386.6" y="188.6" font-size="11" font-weight="bold" font-style="normal" text-anchor="start" fill="#000">F</text>
<text x="405.8" y="192.4" font-size="8.9" font-weight="bold" font-style="normal" text-anchor="start" fill="#000" textLength="96.9" lengthAdjust="spacingAndGlyphs">Cell Free Hemoglobin</text>
<line x1="381.2" y1="198.3" x2="381.2" y2="303.6" stroke="#555" stroke-width="1.2"/>
<line x1="449.9" y1="198.3" x2="449.9" y2="303.6" stroke="#555" stroke-width="1.3"/>
<line x1="519.5" y1="198.3" x2="519.5" y2="303.6" stroke="#555" stroke-width="1.3"/>
<line x1="381.2" y1="303.1" x2="519.5" y2="303.1" stroke="#555" stroke-width="1.2"/>
<line x1="379.4" y1="302.5" x2="381.2" y2="302.5" stroke="#222" stroke-width="0.9"/>
<line x1="448.09999999999997" y1="302.5" x2="449.9" y2="302.5" stroke="#222" stroke-width="0.9"/>
<text x="378.4" y="305.1" font-size="7.5" font-weight="normal" font-style="normal" text-anchor="end" fill="#000">0</text>
<line x1="379.4" y1="279.03" x2="381.2" y2="279.03" stroke="#222" stroke-width="0.9"/>
<line x1="448.09999999999997" y1="279.03" x2="449.9" y2="279.03" stroke="#222" stroke-width="0.9"/>
<text x="378.4" y="281.63" font-size="7.5" font-weight="normal" font-style="normal" text-anchor="end" fill="#000">100</text>
<line x1="379.4" y1="255.56" x2="381.2" y2="255.56" stroke="#222" stroke-width="0.9"/>
<line x1="448.09999999999997" y1="255.56" x2="449.9" y2="255.56" stroke="#222" stroke-width="0.9"/>
<text x="378.4" y="258.16" font-size="7.5" font-weight="normal" font-style="normal" text-anchor="end" fill="#000">200</text>
<line x1="379.4" y1="232.09" x2="381.2" y2="232.09" stroke="#222" stroke-width="0.9"/>
<line x1="448.09999999999997" y1="232.09" x2="449.9" y2="232.09" stroke="#222" stroke-width="0.9"/>
<text x="378.4" y="234.69" font-size="7.5" font-weight="normal" font-style="normal" text-anchor="end" fill="#000">300</text>
<line x1="379.4" y1="208.62" x2="381.2" y2="208.62" stroke="#222" stroke-width="0.9"/>
<line x1="448.09999999999997" y1="208.62" x2="449.9" y2="208.62" stroke="#222" stroke-width="0.9"/>
<text x="378.4" y="211.22" font-size="7.5" font-weight="normal" font-style="normal" text-anchor="end" fill="#000">400</text>
<line x1="398.8" y1="303.1" x2="398.8" y2="304.70000000000005" stroke="#222" stroke-width="0.9"/>
<text x="398.8" y="312.7" font-size="5.8" font-weight="normal" font-style="normal" text-anchor="middle" fill="#000" textLength="33.1" lengthAdjust="spacingAndGlyphs">Before Wash</text>
<line x1="433.5" y1="303.1" x2="433.5" y2="304.70000000000005" stroke="#222" stroke-width="0.9"/>
<text x="433.5" y="312.7" font-size="5.8" font-weight="normal" font-style="normal" text-anchor="middle" fill="#000" textLength="28.6" lengthAdjust="spacingAndGlyphs">After Wash</text>
<line x1="468.0" y1="303.1" x2="468.0" y2="304.70000000000005" stroke="#222" stroke-width="0.9"/>
<text x="468.0" y="312.7" font-size="5.8" font-weight="normal" font-style="normal" text-anchor="middle" fill="#000" textLength="33.1" lengthAdjust="spacingAndGlyphs">Before Wash</text>
<line x1="502.7" y1="303.1" x2="502.7" y2="304.70000000000005" stroke="#222" stroke-width="0.9"/>
<text x="502.7" y="312.7" font-size="5.8" font-weight="normal" font-style="normal" text-anchor="middle" fill="#000" textLength="28.6" lengthAdjust="spacingAndGlyphs">After Wash</text>
<text x="417.7" y="328.1" font-size="7.7" font-weight="bold" font-style="italic" text-anchor="middle" fill="#000" textLength="26.4" lengthAdjust="spacingAndGlyphs">Week 1</text>
<text x="485.9" y="328.1" font-size="7.7" font-weight="bold" font-style="italic" text-anchor="middle" fill="#000" textLength="26.6" lengthAdjust="spacingAndGlyphs">Week 6</text>
<polyline points="398.8,291.9 433.5,298.5" fill="none" stroke="#7c7c7c" stroke-width="2.4" stroke-linejoin="round"/>
<line x1="398.8" y1="288.5" x2="398.8" y2="295.4" stroke="#333" stroke-width="1"/>
<line x1="397.0" y1="288.5" x2="400.6" y2="288.5" stroke="#333" stroke-width="1"/>
<line x1="397.0" y1="295.4" x2="400.6" y2="295.4" stroke="#333" stroke-width="1"/>
<circle cx="398.8" cy="291.9" r="1.8" fill="#000"/>
<line x1="433.5" y1="298.0" x2="433.5" y2="299.0" stroke="#333" stroke-width="1"/>
<line x1="431.7" y1="298.0" x2="435.3" y2="298.0" stroke="#333" stroke-width="1"/>
<line x1="431.7" y1="299.0" x2="435.3" y2="299.0" stroke="#333" stroke-width="1"/>
<rect x="432.1" y="297.1" width="2.8" height="2.8" fill="#000"/>
<polyline points="468.0,206.0 502.7,239.0" fill="none" stroke="#7c7c7c" stroke-width="2.4" stroke-linejoin="round"/>
<line x1="468.0" y1="199.8" x2="468.0" y2="212.6" stroke="#333" stroke-width="1"/>
<line x1="466.2" y1="199.8" x2="469.8" y2="199.8" stroke="#333" stroke-width="1"/>
<line x1="466.2" y1="212.6" x2="469.8" y2="212.6" stroke="#333" stroke-width="1"/>
<circle cx="468.0" cy="206.0" r="1.6" fill="#000"/>
<line x1="502.7" y1="225.8" x2="502.7" y2="252.8" stroke="#333" stroke-width="1"/>
<line x1="500.9" y1="225.8" x2="504.5" y2="225.8" stroke="#333" stroke-width="1"/>
<line x1="500.9" y1="252.8" x2="504.5" y2="252.8" stroke="#333" stroke-width="1"/>
<circle cx="502.7" cy="239.0" r="1.6" fill="#000"/>
<text x="381.9" y="295.1" font-size="5.6" font-weight="bold" font-style="normal" text-anchor="start" fill="#000" textLength="14.4" lengthAdjust="spacingAndGlyphs">n = 3</text>
<text x="407.3" y="289.8" font-size="6.5" font-weight="bold" font-style="normal" text-anchor="start" fill="#000" textLength="4.3" lengthAdjust="spacingAndGlyphs">**</text>
<text x="412.2" y="289.8" font-size="7.6" font-weight="normal" font-style="normal" text-anchor="start" fill="#000" textLength="24.5" lengthAdjust="spacingAndGlyphs"><tspan font-style="italic">P</tspan> = .02</text>
<text x="450.2" y="208.2" font-size="5.4" font-weight="bold" font-style="normal" text-anchor="start" fill="#000" textLength="15" lengthAdjust="spacingAndGlyphs">n = 3</text>
<text x="485.0" y="222.1" font-size="6.5" font-weight="bold" font-style="normal" text-anchor="start" fill="#000" textLength="4.5" lengthAdjust="spacingAndGlyphs">**</text>
<text x="492.7" y="222.1" font-size="7.6" font-weight="normal" font-style="normal" text-anchor="start" fill="#000" textLength="23" lengthAdjust="spacingAndGlyphs"><tspan font-style="italic">P</tspan> = .07</text>
<text x="135.0" y="351.6" font-size="7.5" font-weight="normal" font-style="normal" text-anchor="start" fill="#000">*</text>
<text x="141.2" y="351.2" font-size="6.4" font-weight="normal" font-style="normal" text-anchor="start" fill="#000" textLength="248.8" lengthAdjust="spacingAndGlyphs">Level of significance of the increase in plasma iron and CFH levels compared to week 1</text>
<text x="134.5" y="359.1" font-size="7.5" font-weight="normal" font-style="normal" text-anchor="start" fill="#000" textLength="5.5" lengthAdjust="spacingAndGlyphs">**</text>
<text x="142.0" y="358.7" font-size="6.4" font-weight="normal" font-style="normal" text-anchor="start" fill="#000" textLength="250" lengthAdjust="spacingAndGlyphs">Level of significance of the effect before and after washing on the levels of iron and CFH</text>
</svg></body></html>
